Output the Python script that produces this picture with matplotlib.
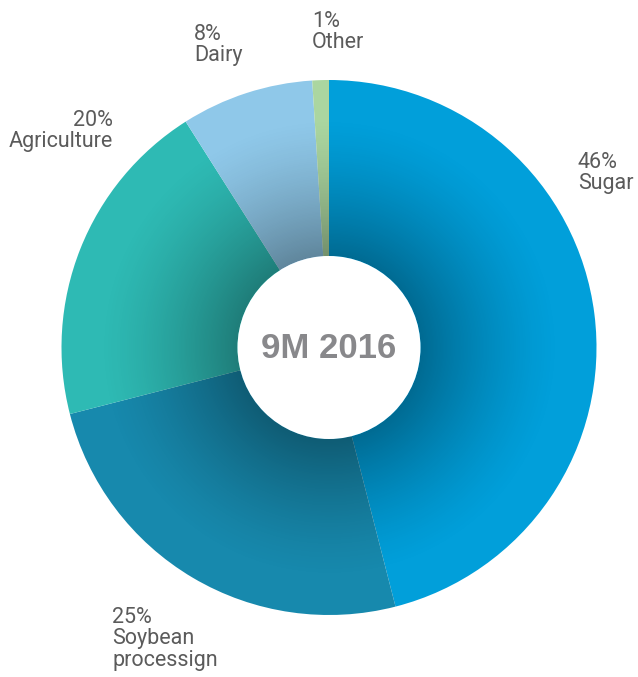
import numpy as np
import matplotlib.pyplot as plt
from matplotlib.patches import Wedge, Circle

categories = ['Sugar', 'Soybean\nprocessign', 'Agriculture', 'Dairy', 'Other']
shares = [46, 25, 20, 8, 1]
colors = ['#019fda', '#1789ad', '#2ebab4', '#8fc8e9', '#abd6a0']

W, H = 638, 677
fig = plt.figure(figsize=(W / 100, H / 100), dpi=100)
ax = fig.add_axes([0, 0, 1, 1])

cx, cy = 329, H - 347.5
R, r_in = 267.5, 91.5

wedges, _ = ax.pie(shares, colors=colors, startangle=90, counterclock=False,
                   radius=R, center=(cx, cy), wedgeprops=dict(linewidth=0))

# radial shading, darker towards the hole
n = 600
xs = np.linspace(cx - R, cx + R, n)
ys = np.linspace(cy - R, cy + R, n)
X, Y = np.meshgrid(xs, ys)
dist = np.hypot(X - cx, Y - cy)
t = np.clip((dist - r_in) / 140, 0, 1)
alpha = 0.33 * (1 - t) ** 1.4
img = np.zeros((n, n, 4))
img[..., 3] = alpha
im = ax.imshow(img, extent=(cx - R, cx + R, cy - R, cy + R), origin='lower',
               zorder=2, interpolation='bilinear')
clip = Wedge((cx, cy), R, 0, 360, width=R - r_in, transform=ax.transData,
             facecolor='none', edgecolor='none')
ax.add_patch(clip)
im.set_clip_path(clip)

ax.add_patch(Circle((cx, cy), r_in, facecolor='white', edgecolor='none', zorder=3))
ax.text(cx, cy - 1, '9M 2016', ha='center', va='center', fontsize=25,
        fontweight='bold', color='#88888b', family='Liberation Sans', zorder=4)

lab_kw = dict(fontsize=15.5, color='#5b5b5b', family='Roboto', va='top',
              linespacing=1.03)
ax.text(578, H - 152, '%d%%\n%s' % (shares[0], categories[0]), ha='left', **lab_kw)
ax.text(112, H - 607, '%d%%\n%s' % (shares[1], categories[1]), ha='left', **lab_kw)
ax.text(113, H - 110, '%d%%\n%s' % (shares[2], categories[2]), ha='right', **lab_kw)
ax.text(194, H - 24, '%d%%\n%s' % (shares[3], categories[3]), ha='left', **lab_kw)
ax.text(312, H - 11, '%d%%\n%s' % (shares[4], categories[4]), ha='left', **lab_kw)

ax.set_xlim(0, W)
ax.set_ylim(0, H)
ax.set_aspect('auto')
ax.axis('off')

fig.savefig('out.png', dpi=100)
